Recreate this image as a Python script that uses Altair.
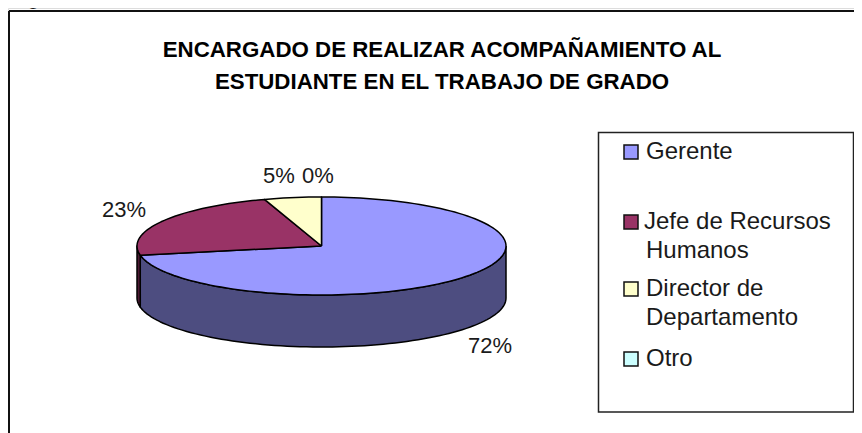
import math
import altair as alt
import pandas as pd

categories = ["Gerente", "Jefe de Recursos Humanos", "Director de Departamento", "Otro"]
shares = [72, 23, 5, 0]
colors = ["#9999FF", "#993366", "#FFFFCC", "#CCFFFF"]
dark_colors = ["#4D4D80", "#4D1A33", "#80806A", "#6A8080"]
title_lines = ["ENCARGADO DE REALIZAR ACOMPAÑAMIENTO AL", "ESTUDIANTE EN EL TRABAJO DE GRADO"]
caption = "Figura 21:"

W, H = 846, 425
FONT = "Liberation Sans"
RX, RY = 184.5, 49.0
CX, CY = 313.5, 238.0
DEPTH = 52.0 / RY

x_scale = alt.Scale(domain=[-CX / RX, (W - CX) / RX], range=[0, W], nice=False, zero=False)
y_scale = alt.Scale(domain=[(CY - H) / RY, CY / RY], range=[H, 0], nice=False, zero=False)


def pt(deg, drop=0.0):
    a = math.radians(deg)
    return math.sin(a), math.cos(a) - drop


rows = []


def add(name, pts):
    for i, (x, y) in enumerate(pts + [pts[0]]):
        rows.append({"part": name, "i": i, "x": x, "y": y})


def arc(a0, a1, drop=0.0):
    n = max(2, int(abs(a1 - a0) / 2) + 1)
    return [pt(a0 + (a1 - a0) * k / (n - 1), drop) for k in range(n)]


# Sides first, then the top faces
start = 0.0
spans = []
for name, s in zip(categories, shares):
    end = start + s * 3.6
    spans.append((name, start, end))
    start = end

domain, rng = [], []
for (name, a0, a1), dark in zip(spans, dark_colors):
    lo, hi = max(a0, 90), min(a1, 270)
    if hi > lo:
        add("side " + name, arc(lo, hi) + arc(hi, lo, DEPTH))
        domain.append("side " + name)
        rng.append(dark)
for (name, a0, a1), col in zip(spans, colors):
    if a1 > a0:
        add("top " + name, [(0.0, 0.0)] + arc(a0, a1))
        domain.append("top " + name)
        rng.append(col)

pie = (
    alt.Chart(pd.DataFrame(rows))
    .mark_line(filled=True, stroke="#000000", strokeWidth=1.5, strokeJoin="round")
    .encode(
        x=alt.X("x:Q", scale=x_scale, axis=None),
        y=alt.Y("y:Q", scale=y_scale, axis=None),
        order="i:Q",
        detail="part:N",
        fill=alt.Fill("part:N", scale=alt.Scale(domain=domain, range=rng), legend=None),
    )
)


def text(t, x, y, size=22, bold=False, align="left", color="#1a1a1a"):
    return (
        alt.Chart(pd.DataFrame({"t": [t]}))
        .mark_text(font=FONT, fontSize=size, fontWeight="bold" if bold else "normal",
                   align=align, baseline="middle", color=color)
        .encode(text="t:N", x=alt.value(x - 8), y=alt.value(y - 8))
    )


def rule(x, y, x2, y2, width=2):
    return alt.Chart(pd.DataFrame({"v": [0]})).mark_rule(color="#111111", strokeWidth=width).encode(
        x=alt.value(x - 8), x2=alt.value(x2 - 8), y=alt.value(y - 8), y2=alt.value(y2 - 8))


frame = [rule(9, 11, 854, 11), rule(9, 11, 9, 433)]

legend_box = alt.Chart(pd.DataFrame({"v": [0]})).mark_rect(fill="#FFFFFF", stroke="#222222", strokeWidth=1.5).encode(
    x=alt.value(598.5 - 8), x2=alt.value(853.5 - 8), y=alt.value(132.5 - 8), y2=alt.value(412 - 8))


def swatch(col, y):
    return alt.Chart(pd.DataFrame({"v": [0]})).mark_square(
        fill=col, stroke="#111111", strokeWidth=1.5, size=196, opacity=1
    ).encode(x=alt.value(631 - 8), y=alt.value(y - 8))


legend_rows = [
    (colors[0], 152, [("Gerente", 646)]),
    (colors[1], 222, [("Jefe de Recursos", 644), ("Humanos", 646)]),
    (colors[2], 289, [("Director de", 646), ("Departamento", 646)]),
    (colors[3], 359, [("Otro", 646)]),
]
legend_layers = [legend_box]
for col, y, lines in legend_rows:
    legend_layers.append(swatch(col, y))
    for k, (t, x) in enumerate(lines):
        legend_layers.append(text(t, x, y + k * 29, size=24))

labels = [
    text(f"{shares[0]}%", 490, 346, align="center"),
    text(f"{shares[1]}%", 124, 210, align="center"),
    text(f"{shares[2]}%", 279, 176, align="center"),
    text(f"{shares[3]}%", 318, 176, align="center"),
]
titles = [
    text(title_lines[0], 442, 50, size=22.3, bold=True, align="center", color="#000000"),
    text(title_lines[1], 442, 82, size=22.3, bold=True, align="center", color="#000000"),
]
cap = text(caption, 9, -3, align="left")

chart = alt.layer(
    pie, *frame, *legend_layers, *labels, *titles, cap
).properties(
    width=W, height=H, padding=0, autosize=alt.AutoSizeParams(type="none")
).configure_view(stroke=None).configure(background="#FFFFFF")

chart.save("out.html", embed_options={"renderer": "svg", "actions": False})
